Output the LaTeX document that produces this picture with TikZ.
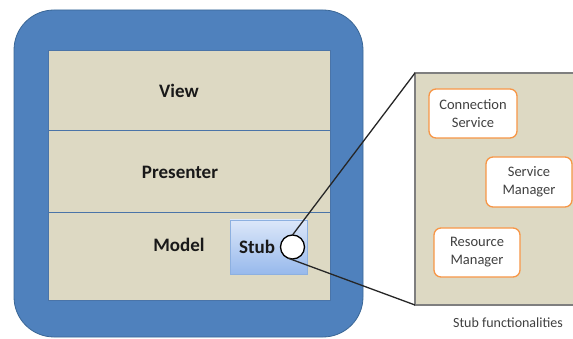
\documentclass[tikz,border=0pt]{standalone}
\usepackage{fontspec}
\setmainfont{Carlito}
\usetikzlibrary{shadings}
\definecolor{outerblue}{HTML}{4F81BD}
\definecolor{outerline}{HTML}{3B6796}
\definecolor{beige}{HTML}{DDD9C3}
\definecolor{divline}{HTML}{4A74A8}
\definecolor{stubtop}{HTML}{DCE7F9}
\definecolor{stubbot}{HTML}{97B9EC}
\definecolor{stubline}{HTML}{8DB0E0}
\definecolor{orangeln}{HTML}{F79646}
\definecolor{panelln}{HTML}{7F7F7F}
\definecolor{smalltext}{HTML}{404040}
\tikzset{
  box/.style={inner sep=0pt, outer sep=0pt},
  layerlabel/.style={font=\fontsize{19}{21}\selectfont\bfseries, text=black!90},
  funcbox/.style={box, draw=orangeln, line width=1.3pt, fill=white, rounded corners=7pt,
    align=center, font=\fontsize{14.5}{18}\selectfont, text=smalltext},
  funnel/.style={draw=black!85, line width=1.3pt}
}
\begin{document}
\begin{tikzpicture}[x=1pt,y=-1pt]
\clip (0,0) rectangle (573,339);
\fill[white] (0,0) rectangle (573,339);
% outer blue rounded box
\node[box, draw=outerline, line width=0.8pt, fill=outerblue, rounded corners=40pt,
  minimum width=349pt, minimum height=327pt] (outer) at (188.5,173.5) {};
% inner beige layers
\node[box, draw=divline, line width=0.8pt, fill=beige, minimum width=282pt, minimum height=80pt] (viewL) at (189,90) {};
\node[box, draw=divline, line width=0.8pt, fill=beige, minimum width=282pt, minimum height=82pt] (presL) at (189,171) {};
\node[box, draw=divline, line width=0.8pt, fill=beige, minimum width=282pt, minimum height=88pt] (modL) at (189,256) {};
\node[layerlabel] (view) at (179,91) {View};
\node[layerlabel] (pres) at (180,172) {Presenter};
\node[layerlabel] (model) at (179,245) {Model};
% stub
\node[box, draw=stubline, line width=0.6pt, top color=stubtop, bottom color=stubbot,
  minimum width=77pt, minimum height=54pt] (stubbox) at (268.5,247) {};
\node[layerlabel] (stub) at (257,247) {Stub};
% right panel
\node[box, draw=panelln, line width=2pt, fill=beige, minimum width=175pt, minimum height=232pt] (panel) at (502.5,189) {};
% circle
\node[box, circle, draw=black, line width=1.3pt, fill=white, minimum size=24pt] (circ) at (292.5,247) {};
\draw[funnel] (circ.north) -- (panel.north west);
\draw[funnel] (circ.-110) -- (panel.south west);
% functionality boxes
\node[funcbox, minimum width=88pt, minimum height=49pt] (conn) at (473,113.5) {Connection\\Service};
\node[funcbox, minimum width=86pt, minimum height=50pt] (sman) at (529,182) {Service\\Manager};
\node[funcbox, minimum width=86pt, minimum height=49pt] (rman) at (477,252.5) {Resource\\Manager};
\node[font=\fontsize{14}{16}\selectfont, text=smalltext] (cap) at (508,323) {Stub functionalities};
\end{tikzpicture}
\end{document}
